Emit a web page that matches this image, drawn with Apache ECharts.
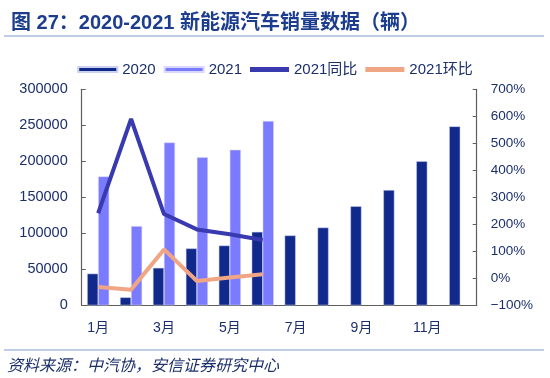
<!DOCTYPE html>
<html>
<head>
<meta charset="utf-8">
<script src="https://cdn.jsdelivr.net/npm/echarts@6/dist/echarts.min.js"></script>
<style>
html,body{margin:0;padding:0;background:#fff;}
#main{width:550px;height:378px;}
</style>
</head>
<body>
<div id="main"></div>
<script>
const months = ['1月','2月','3月','4月','5月','6月','7月','8月','9月','10月','11月','12月'];
const sales2020 = [44000, 11000, 52000, 79000, 83000, 102000, 97000, 108000, 137500, 160000, 200000, 248500];
const sales2021 = [179000, 110000, 226000, 205500, 216000, 256000, null, null, null, null, null, null];
const yoy2021 = [241, 590, 238, 181, 163, 142, null, null, null, null, null, null];
const mom2021 = [-32, -42, 107, -10, 3, 15, null, null, null, null, null, null];
const seriesNames = ['2020', '2021', '2021同比', '2021环比'];

const navy = '#1b2f6b';
const axisGray = '#5f5f5f';
const chart = echarts.init(document.getElementById('main'), null, {renderer: 'canvas'});
chart.setOption({
  animation: false,
  backgroundColor: '#fff',
  textStyle: {fontFamily: '"Liberation Sans", Arial, "Noto Sans CJK SC", sans-serif'},
  title: {
    text: '图 27：2020-2021 新能源汽车销量数据（辆）',
    left: 6, top: 8,
    textStyle: {fontSize: 20, fontWeight: 'bold', color: '#1c3d8e',
      fontFamily: '"Liberation Sans", Arial, "Noto Sans CJK SC", sans-serif'}
  },
  graphic: [
    {type: 'line', shape: {x1: 4, y1: 36, x2: 544, y2: 36}, style: {stroke: '#7f9ad0', lineWidth: 1.2}},
    {type: 'line', shape: {x1: 4, y1: 350, x2: 544, y2: 350}, style: {stroke: '#7f9ad0', lineWidth: 1.2}},
    {type: 'text', left: 7, top: 357, style: {
      text: '资料来源：中汽协，安信证券研究中心', fill: navy,
      font: 'italic 16px "Noto Sans CJK SC", sans-serif'}}
  ],
  legend: {
    data: seriesNames,
    left: 'center', top: 57,
    icon: 'rect',
    itemWidth: 39, itemHeight: 5, itemGap: 8,
    textStyle: {fontSize: 15, color: navy}
  },
  grid: {left: 81.7, right: 73.3, top: 89.3, bottom: 72.7, containLabel: false},
  xAxis: {
    type: 'category', data: months,
    axisLine: {lineStyle: {color: axisGray, width: 1.2}},
    axisTick: {inside: true, length: 4, interval: 0, lineStyle: {color: axisGray}},
    axisLabel: {interval: 1, fontSize: 14, color: navy, margin: 16}
  },
  yAxis: [
    {
      type: 'value', min: 0, max: 300000, interval: 50000,
      axisLine: {show: true, lineStyle: {color: axisGray, width: 1.2}},
      axisTick: {show: true, inside: true, length: 4, lineStyle: {color: axisGray}},
      splitLine: {show: false},
      axisLabel: {fontSize: 14.5, color: navy, margin: 14, formatter: v => String(v)}
    },
    {
      type: 'value', min: -100, max: 700, interval: 100,
      axisLine: {show: true, lineStyle: {color: axisGray, width: 1.2}},
      axisTick: {show: true, inside: true, length: 4, lineStyle: {color: axisGray}},
      splitLine: {show: false},
      axisLabel: {fontSize: 13.5, color: navy, margin: 14,
        formatter: v => (v < 0 ? '\u2212' + Math.abs(v) : v) + '%'}
    }
  ],
  series: [
    {name: seriesNames[0], type: 'bar', data: sales2020, barGap: '0%', barCategoryGap: '33%',
      itemStyle: {color: '#10298a', borderColor: '#c9d0f0', borderWidth: 0.5}},
    {name: seriesNames[1], type: 'bar', data: sales2021,
      itemStyle: {color: '#7b7bff', borderColor: '#d8d8ff', borderWidth: 0.5}},
    {name: seriesNames[2], type: 'line', yAxisIndex: 1, data: yoy2021, showSymbol: false, symbol: 'none',
      lineStyle: {color: '#3a3ab0', width: 4}, itemStyle: {color: '#3a3ab0'}},
    {name: seriesNames[3], type: 'line', yAxisIndex: 1, data: mom2021, showSymbol: false, symbol: 'none',
      lineStyle: {color: '#f0a585', width: 4}, itemStyle: {color: '#f0a585'}}
  ]
});
</script>
</body>
</html>
